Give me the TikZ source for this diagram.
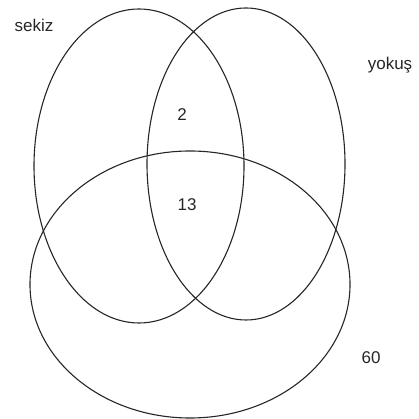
\documentclass[tikz,border=0pt]{standalone}
\usepackage{fontspec}
\setmainfont{Liberation Sans}
\begin{document}
\begin{tikzpicture}[x=1pt,y=1pt,
  setline/.style={draw=black!85,line width=1.1pt},
  lbl/.style={font=\fontsize{17}{20}\selectfont,text=black!85,inner sep=0pt}]
\useasboundingbox (0,0) rectangle (418,419);
\draw[setline] (139,253) ellipse [x radius=105, y radius=157];
\draw[setline] (246,255) ellipse [x radius=99, y radius=156];
\draw[setline] (190,134.5) ellipse [x radius=160, y radius=133.5];
\node[lbl] (sekiz) at (34,394) {sekiz};
\node[lbl] (yokus) at (390,354) {yokuş};
\node[lbl] (two) at (182,304) {2};
\node[lbl] (thirteen) at (187,214) {13};
\node[lbl] (sixty) at (371,61) {60};
\end{tikzpicture}
\end{document}
